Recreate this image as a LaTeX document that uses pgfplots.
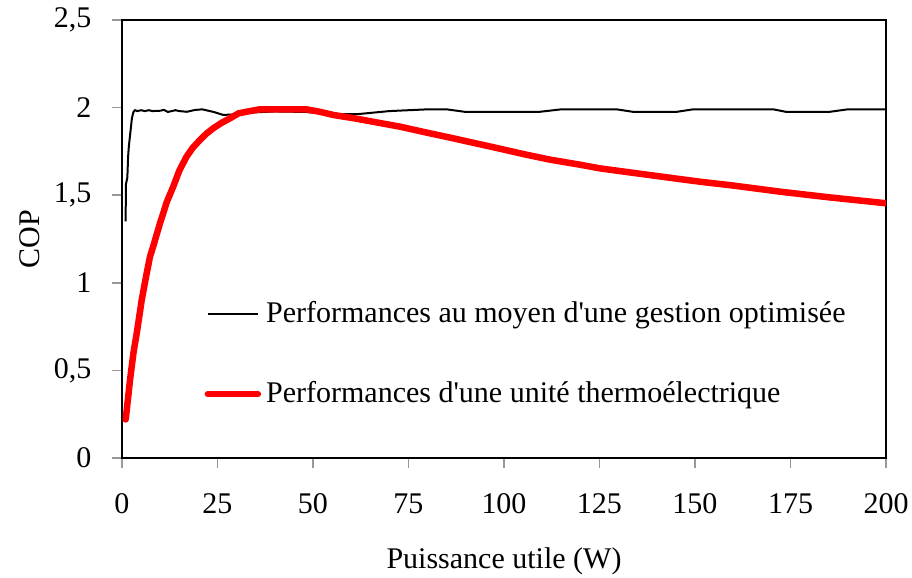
\documentclass[border=0pt]{standalone}
\usepackage{fontspec}
\setmainfont{Liberation Serif}
\usepackage{pgfplots}
\pgfplotsset{compat=1.18}

\begin{document}
\fontsize{12}{14}\selectfont
\begin{tikzpicture}
\begin{axis}[
    scale only axis,
    width=305.6pt, height=175.2pt,
    xmin=0, xmax=200,
    ymin=0, ymax=2.5,
    xtick={0,25,...,200},
    ytick={0,0.5,1,1.5,2,2.5},
    xtick pos=bottom, ytick pos=left,
    tick align=outside,
    major tick length=4pt,
    major tick style={gray!80, line width=0.6pt},
    axis line style={black, line width=0.6pt},
    /pgf/number format/.cd, use comma, 1000 sep={}, assume math mode=true,
    /pgfplots/.cd,
    tick label style={font=\fontsize{12}{14}\selectfont},
    yticklabel style={xshift=-4pt},
    xticklabel style={yshift=-6pt},
    xlabel={Puissance utile (W)},
    ylabel={COP},
    label style={font=\fontsize{12}{14}\selectfont},
    xlabel style={at={(axis description cs:0.5,0)}, anchor=center, yshift=-41.5pt},
    ylabel style={at={(axis description cs:0,0.5)}, anchor=center, yshift=36.8pt},
    legend style={at={(axis cs:21.5,0.928)}, anchor=north west, draw=none, fill=none,
        font=\fontsize{12}{14}\selectfont, row sep=17.9pt, inner sep=0pt},
    legend cell align=left,
    legend image code/.code={\draw[#1] (0pt,0pt) -- (20pt,0pt);},
]
\addplot[black, line width=0.8pt] coordinates {
    (0.97,1.35)(1.0,1.56)(1.4,1.60)(1.6,1.72)(1.8,1.78)(2.2,1.86)(2.6,1.94)
    (3.0,1.975)(3.4,1.985)(4,1.98)(5,1.985)(6,1.98)(7,1.985)(8,1.98)(10,1.982)
    (11,1.987)(12,1.975)(14,1.985)(15,1.98)(17,1.976)(19,1.986)(21,1.99)
    (22,1.985)(24,1.975)(26.5,1.958)(30,1.962)(34,1.972)(40,1.978)(48,1.975)
    (55,1.962)(61.4,1.962)(70,1.98)(80,1.99)(85,1.99)(90,1.975)(109,1.975)
    (115,1.99)(129.5,1.99)(134,1.975)(145,1.975)(149.5,1.99)(170.5,1.99)
    (174,1.975)(185,1.975)(190,1.99)(200,1.99)
};
\addlegendentry{Performances au moyen d\textquotesingle une gestion optimisée}
\addplot[red, line width=2.6pt, line cap=round, line join=round] coordinates {
    (0.97,0.22)(2.1,0.445)(3.0,0.6)(3.84,0.71)(4.4,0.79)(5.15,0.9)(6.46,1.054)
    (7.33,1.149)(8.2,1.21)(9.95,1.34)(10.8,1.397)(11.7,1.46)(13.4,1.548)
    (15,1.64)(16.9,1.72)(18.5,1.77)(20.4,1.815)(22.2,1.853)(23.9,1.882)
    (26,1.912)(28.3,1.939)(30.5,1.967)(33.5,1.98)(36.1,1.99)(40,1.99)
    (45,1.99)(48.3,1.99)(52,1.975)(55.3,1.958)(61,1.938)(66,1.918)
    (72.8,1.891)(80,1.856)(86,1.828)(92,1.799)(99,1.765)(105,1.735)(112,1.703)
    (119.9,1.674)(125.1,1.653)(135,1.624)(146,1.592)(151.3,1.577)(160,1.555)
    (172.3,1.52)(185,1.488)(200,1.454)
};
\addlegendentry{Performances d\textquotesingle une unité thermoélectrique}
\end{axis}
\path (current axis.south west) +(-48.8pt,-48pt) coordinate (bl);
\path (current axis.north east) +(10.4pt,8pt) coordinate (tr);
\pgfresetboundingbox
\useasboundingbox (bl) rectangle (tr);
\end{tikzpicture}
\end{document}
